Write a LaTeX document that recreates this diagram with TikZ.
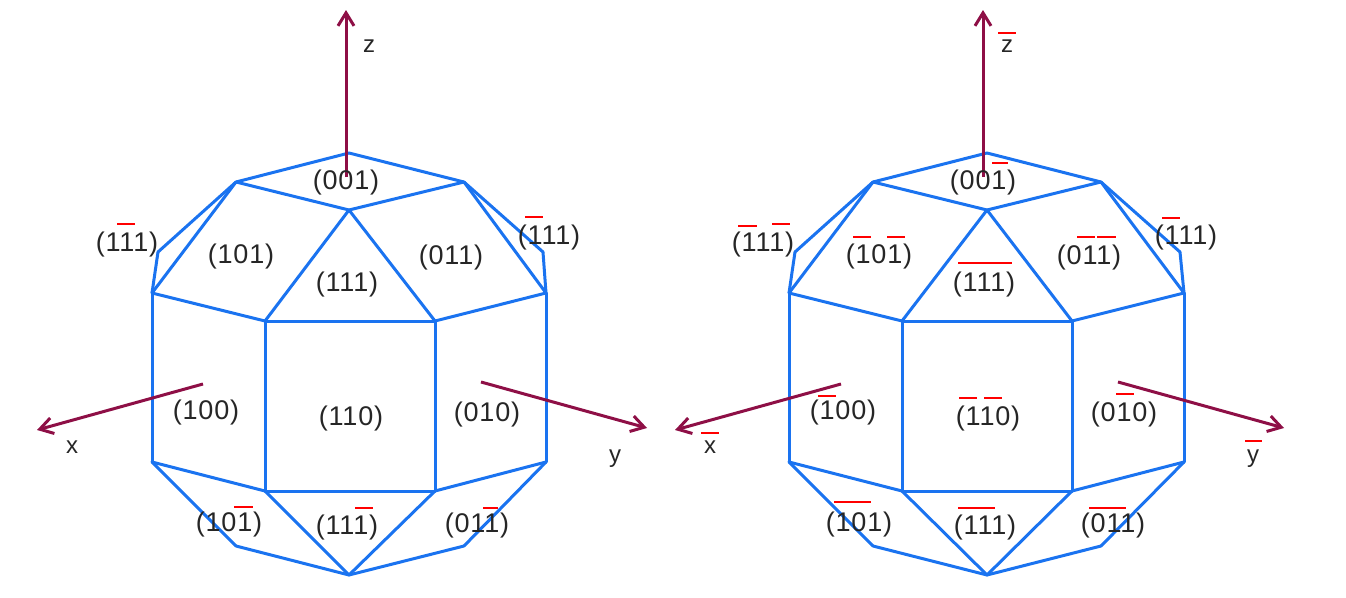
\documentclass[tikz,border=0pt]{standalone}
\usepackage{fontspec}
\setmainfont{Liberation Sans}
\newfontfamily\labfont[LetterSpace=3]{Liberation Sans}
\usetikzlibrary{arrows.meta}
\definecolor{edgeblue}{RGB}{26,115,240}
\definecolor{axiscol}{RGB}{142,15,70}
\tikzset{
  edge/.style={draw=edgeblue, line width=3pt, line join=round, line cap=round},
  axis/.style={draw=axiscol, line width=3pt, -{Straight Barb[length=13pt,width=16pt,line width=3pt]}},
  lab/.style={inner sep=0pt, text=black!85, font=\labfont\fontsize{27}{30}\selectfont},
  axlab/.style={inner sep=0pt, text=black!85, font=\fontsize{24}{28}\selectfont},
  bar/.style={fill=red, inner sep=0pt, minimum height=2.8pt}
}
\begin{document}
\begin{tikzpicture}[x=1pt, y=-1pt]
\useasboundingbox (0,0) rectangle (1346,597);

% Vertices of the left solid
\coordinate (LT) at (349,153); % Top
\coordinate (LA) at (236,182);
\coordinate (LB) at (464,182);
\coordinate (LC) at (349,210);
\coordinate (LD) at (158,252);
\coordinate (LE) at (543,252);
\coordinate (LF) at (152,293);
\coordinate (LG) at (546,293);
\coordinate (LH) at (265,321);
\coordinate (LI) at (435,321);
\coordinate (LJ) at (152,462);
\coordinate (LK) at (546,462);
\coordinate (LM) at (265,491);
\coordinate (LN) at (435,491);
\coordinate (LP) at (236,546);
\coordinate (LQ) at (464,546);
\coordinate (LS) at (349,575); % Bottom

% Vertices of the right solid
\coordinate (RT) at (987,153); % Top
\coordinate (RA) at (873,182);
\coordinate (RB) at (1101,182);
\coordinate (RC) at (987,210);
\coordinate (RD) at (795,252);
\coordinate (RE) at (1180,252);
\coordinate (RF) at (789,293);
\coordinate (RG) at (1184,293);
\coordinate (RH) at (902,321);
\coordinate (RI) at (1072,321);
\coordinate (RJ) at (789,462);
\coordinate (RK) at (1184,462);
\coordinate (RM) at (902,491);
\coordinate (RN) at (1072,491);
\coordinate (RP) at (873,546);
\coordinate (RQ) at (1101,546);
\coordinate (RS) at (987,575); % Bottom

% Ends of the axes
\coordinate (Lz0) at (346,177);
\coordinate (Lz1) at (346,10);
\coordinate (Lx0) at (203,384);
\coordinate (Lx1) at (37,430);
\coordinate (Ly0) at (481,382);
\coordinate (Ly1) at (647,428);
\coordinate (Rz0) at (983,177);
\coordinate (Rz1) at (983,10);
\coordinate (Rx0) at (841,384);
\coordinate (Rx1) at (675,430);
\coordinate (Ry0) at (1118,382);
\coordinate (Ry1) at (1284,428);

% Red bars
\node[bar, minimum width=18pt] (b1) at (126,224) {};
\node[bar, minimum width=18pt] (b2) at (534,217) {};
\node[bar, minimum width=19pt] (b3) at (243.5,507) {};
\node[bar, minimum width=18pt] (b4) at (364,508) {};
\node[bar, minimum width=15pt] (b5) at (490,508) {};
\node[bar, minimum width=16pt] (b6) at (1000,163) {};
\node[bar, minimum width=19pt] (b7) at (747.5,226) {};
\node[bar, minimum width=18pt] (b8) at (781,224) {};
\node[bar, minimum width=18pt] (b9) at (862,237) {};
\node[bar, minimum width=18pt] (b10) at (896,237) {};
\node[bar, minimum width=54pt] (b11) at (985,263) {};
\node[bar, minimum width=18pt] (b12) at (1086,237) {};
\node[bar, minimum width=19pt] (b13) at (1106.5,237) {};
\node[bar, minimum width=18pt] (b14) at (1171,218) {};
\node[bar, minimum width=18pt] (b15) at (1125,394) {};
\node[bar, minimum width=17pt] (b16) at (1253.5,441) {};
\node[bar, minimum width=18pt] (b17) at (1007,33) {};
\node[bar, minimum width=18pt] (b18) at (710,433) {};
\node[bar, minimum width=18pt] (b19) at (827,396) {};
\node[bar, minimum width=18pt] (b20) at (968,398) {};
\node[bar, minimum width=18pt] (b21) at (993,398) {};
\node[bar, minimum width=37pt] (b22) at (852.5,502) {};
\node[bar, minimum width=37pt] (b23) at (976.5,508) {};
\node[bar, minimum width=37pt] (b24) at (1107.5,508) {};

% Edges of the left solid
\draw[edge] (LT) -- (LA);
\draw[edge] (LT) -- (LB);
\draw[edge] (LA) -- (LC);
\draw[edge] (LB) -- (LC);
\draw[edge] (LC) -- (LH);
\draw[edge] (LC) -- (LI);
\draw[edge] (LA) -- (LD);
\draw[edge] (LD) -- (LF);
\draw[edge] (LA) -- (LF);
\draw[edge] (LB) -- (LE);
\draw[edge] (LE) -- (LG);
\draw[edge] (LB) -- (LG);
\draw[edge] (LF) -- (LH);
\draw[edge] (LG) -- (LI);
\draw[edge] (LH) -- (LI);
\draw[edge] (LH) -- (LM);
\draw[edge] (LI) -- (LN);
\draw[edge] (LM) -- (LN);
\draw[edge] (LF) -- (LJ);
\draw[edge] (LG) -- (LK);
\draw[edge] (LJ) -- (LM);
\draw[edge] (LK) -- (LN);
\draw[edge] (LJ) -- (LP);
\draw[edge] (LK) -- (LQ);
\draw[edge] (LP) -- (LS);
\draw[edge] (LQ) -- (LS);
\draw[edge] (LM) -- (LS);
\draw[edge] (LN) -- (LS);

% Edges of the right solid
\draw[edge] (RT) -- (RA);
\draw[edge] (RT) -- (RB);
\draw[edge] (RA) -- (RC);
\draw[edge] (RB) -- (RC);
\draw[edge] (RC) -- (RH);
\draw[edge] (RC) -- (RI);
\draw[edge] (RA) -- (RD);
\draw[edge] (RD) -- (RF);
\draw[edge] (RA) -- (RF);
\draw[edge] (RB) -- (RE);
\draw[edge] (RE) -- (RG);
\draw[edge] (RB) -- (RG);
\draw[edge] (RF) -- (RH);
\draw[edge] (RG) -- (RI);
\draw[edge] (RH) -- (RI);
\draw[edge] (RH) -- (RM);
\draw[edge] (RI) -- (RN);
\draw[edge] (RM) -- (RN);
\draw[edge] (RF) -- (RJ);
\draw[edge] (RG) -- (RK);
\draw[edge] (RJ) -- (RM);
\draw[edge] (RK) -- (RN);
\draw[edge] (RJ) -- (RP);
\draw[edge] (RK) -- (RQ);
\draw[edge] (RP) -- (RS);
\draw[edge] (RQ) -- (RS);
\draw[edge] (RM) -- (RS);
\draw[edge] (RN) -- (RS);

% Axes
\draw[axis] (Lz0) -- (Lz1);
\draw[axis] (Lx0) -- (Lx1);
\draw[axis] (Ly0) -- (Ly1);
\draw[axis] (Rz0) -- (Rz1);
\draw[axis] (Rx0) -- (Rx1);
\draw[axis] (Ry0) -- (Ry1);

% Face labels, left
\node[lab] (L001) at (346,183) {(001)};
\node[lab] (L101) at (241,257) {(101)};
\node[lab] (L111) at (347,285) {(111)};
\node[lab] (L011) at (451,258) {(011)};
\node[lab] (Lb111) at (127,245) {(111)};
\node[lab] (Lc111) at (549,238) {(111)};
\node[lab] (L100) at (206,413) {(100)};
\node[lab] (L110) at (351,419) {(110)};
\node[lab] (L010) at (487,415) {(010)};
\node[lab] (Ld101) at (229,525) {(101)};
\node[lab] (Ld111) at (347,528) {(111)};
\node[lab] (Ld011) at (477,526) {(011)};
\node[axlab] (Lz) at (369,46) {z};
\node[axlab] (Lx) at (72,447) {x};
\node[axlab] (Ly) at (615,459) {y};

% Face labels, right
\node[lab] (R001) at (983,183) {(001)};
\node[lab] (R101) at (879,257) {(101)};
\node[lab] (R111) at (984,285) {(111)};
\node[lab] (R011) at (1089,258) {(011)};
\node[lab] (Rb111) at (763,245) {(111)};
\node[lab] (Rc111) at (1186,238) {(111)};
\node[lab] (R100) at (843,413) {(100)};
\node[lab] (R110) at (988,419) {(110)};
\node[lab] (R010) at (1124,415) {(010)};
\node[lab] (Rd101) at (859,525) {(101)};
\node[lab] (Rd111) at (985,528) {(111)};
\node[lab] (Rd011) at (1113,526) {(011)};
\node[axlab] (Rz) at (1007,46) {z};
\node[axlab] (Rx) at (710,447) {x};
\node[axlab] (Ry) at (1253,459) {y};
\end{tikzpicture}
\end{document}
